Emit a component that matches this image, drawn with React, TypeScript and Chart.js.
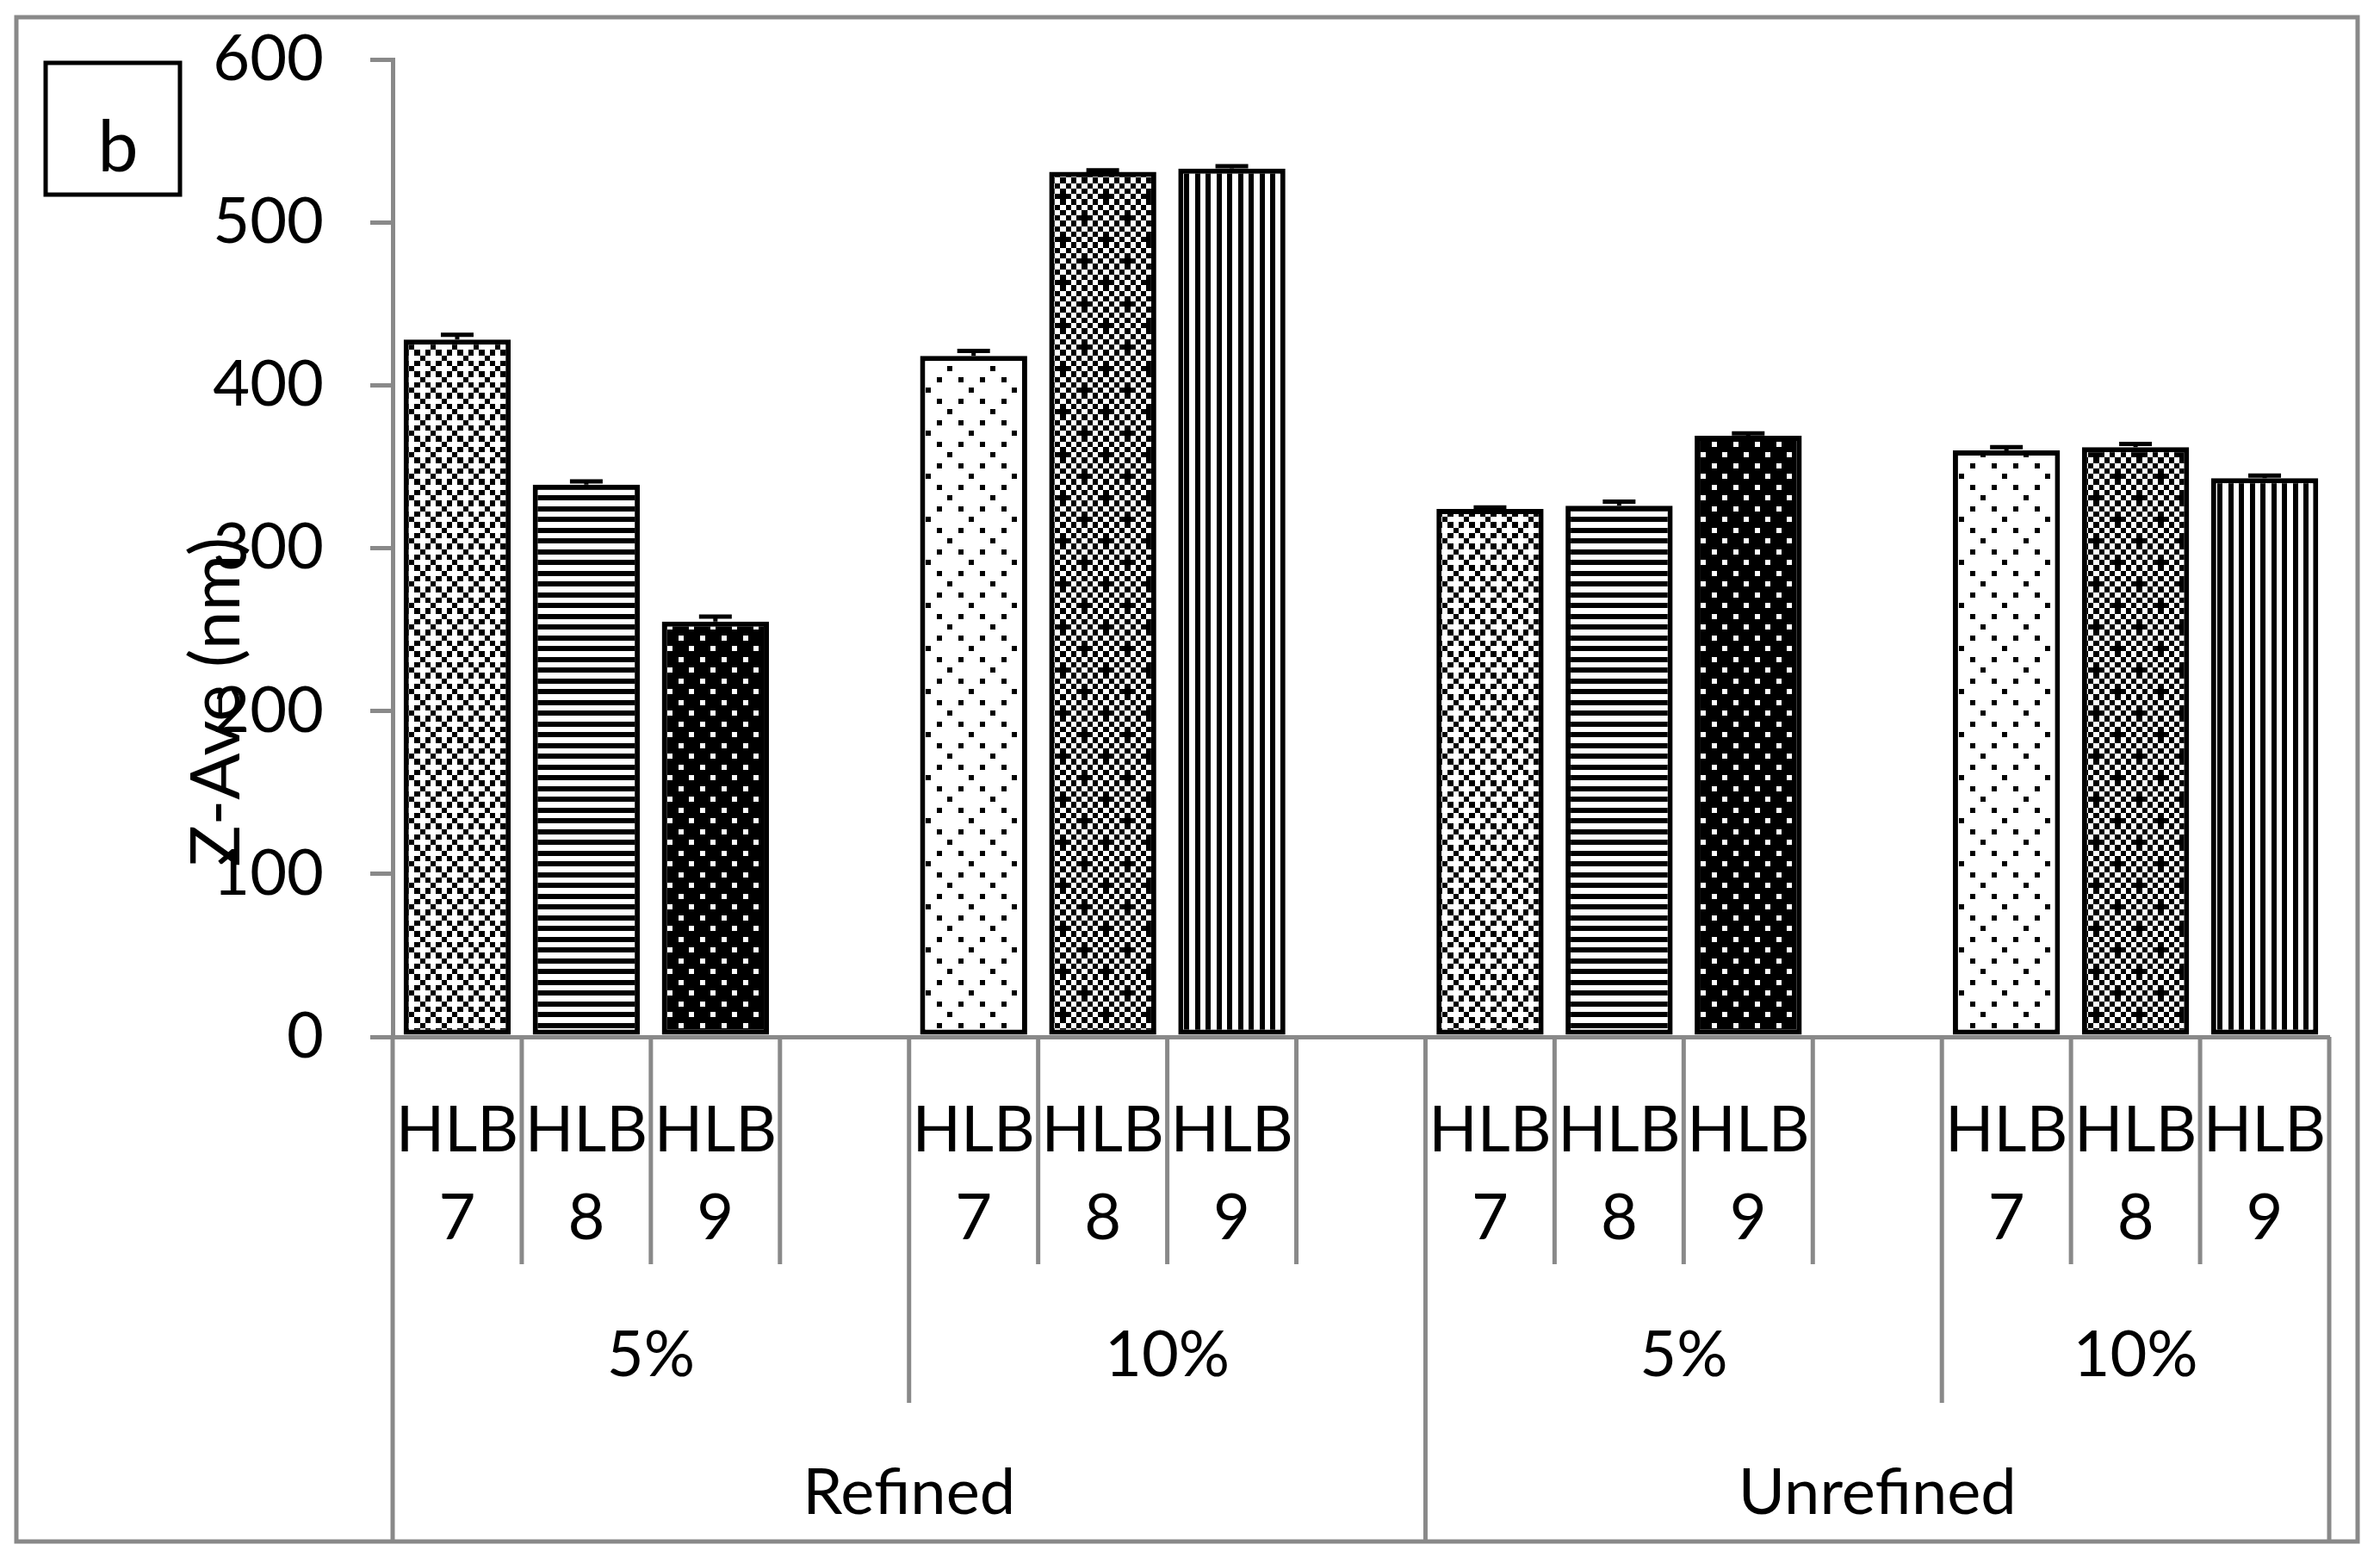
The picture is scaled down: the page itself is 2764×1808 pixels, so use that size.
import React, { useEffect, useRef } from 'react';
import { Chart, registerables } from 'chart.js';

Chart.register(...registerables);

// ---------------- data ----------------
const oilTypes = ['Refined', 'Unrefined'];
const concentrations = ['5%', '10%'];
const hlbLevels = ['7', '8', '9'];

const refined5 = [428, 339, 255];
const refined10 = [418, 531, 533];
const unrefined5 = [324, 326, 369];
const unrefined10 = [360, 362, 343];

const refined5Err = [3, 2, 3];
const refined10Err = [3, 1, 1.5];
const unrefined5Err = [1, 2.5, 1.5];
const unrefined10Err = [2, 2, 1.5];

const yMin = 0;
const yMax = 600;
const yStep = 100;

const yTitle = 'Z-Ave (nm)';
const panelLetter = 'b';

// fill pattern per HLB level, for 5% and 10% groups
const fills5 = ['lightCheck', 'hLines', 'darkDots'];
const fills10 = ['sparseDots', 'darkChecker', 'vLines'];

// ---------------- styling ----------------
const FONT = 'Lato, "Open Sans", sans-serif';
const GRAY = '#898989';
const U = 6.25;

type BlackFn = (x: number, y: number) => boolean;

const patternDefs: Record<string, { n: number; black: BlackFn }> = {
  lightCheck: { n: 4, black: (x, y) => (x + y) % 4 === 0 || (x - y + 4) % 4 === 0 },
  hLines: { n: 4, black: (_x, y) => y % 2 === 0 },
  darkDots: { n: 4, black: (x, y) => !((x === 0 && y === 0) || (x === 2 && y === 2)) },
  sparseDots: {
    n: 8,
    black: (x, y) =>
      (x === 4 && y === 0) || (x === 0 && y === 4) ||
      (x === 2 && y === 2) || (x === 6 && y === 2) ||
      (x === 2 && y === 6) || (x === 6 && y === 6),
  },
  darkChecker: {
    n: 8,
    black: (x, y) => (x + y) % 2 === 0 || (x === 1 && y === 0) || (x === 5 && y === 4),
  },
  vLines: { n: 4, black: (x, _y) => x % 2 === 0 },
};

function makePattern(ctx: CanvasRenderingContext2D, key: string): CanvasPattern | string {
  const def = patternDefs[key];
  const size = Math.round(def.n * U);
  const c = document.createElement('canvas');
  c.width = size;
  c.height = size;
  const g = c.getContext('2d');
  if (!g) return '#888';
  g.fillStyle = '#fff';
  g.fillRect(0, 0, size, size);
  g.fillStyle = '#000';
  for (let y = 0; y < def.n; y++) {
    for (let x = 0; x < def.n; x++) {
      if (def.black(x, y)) {
        const x0 = Math.round(x * U);
        const x1 = Math.round((x + 1) * U);
        const y0 = Math.round(y * U);
        const y1 = Math.round((y + 1) * U);
        g.fillRect(x0, y0, x1 - x0, y1 - y0);
      }
    }
  }
  return ctx.createPattern(c, 'repeat') || '#888';
}

// ---------------- slot layout built from data ----------------
type Group = { label: string; start: number; end: number };

function buildSlots() {
  const series: Record<string, number[][]> = {
    Refined: [refined5, refined10],
    Unrefined: [unrefined5, unrefined10],
  };
  const errs: Record<string, number[][]> = {
    Refined: [refined5Err, refined10Err],
    Unrefined: [unrefined5Err, unrefined10Err],
  };
  const labels: (string | string[])[] = [];
  const values: (number | null)[] = [];
  const errors: (number | null)[] = [];
  const fillKeys: (string | null)[] = [];
  const level2: Group[] = [];
  const level3: Group[] = [];
  const totalGroups = oilTypes.length * concentrations.length;
  let g = 0;
  oilTypes.forEach((oil) => {
    const oilStart = labels.length;
    concentrations.forEach((conc, ci) => {
      const start = labels.length;
      hlbLevels.forEach((h, hi) => {
        labels.push(['HLB', h]);
        values.push(series[oil][ci][hi]);
        errors.push(errs[oil][ci][hi]);
        fillKeys.push(ci === 0 ? fills5[hi] : fills10[hi]);
      });
      g++;
      if (g < totalGroups) {
        labels.push('');
        values.push(null);
        errors.push(null);
        fillKeys.push(null);
      }
      level2.push({ label: conc, start, end: labels.length });
    });
    level3.push({ label: oil, start: oilStart, end: labels.length });
  });
  return { labels, values, errors, fillKeys, level2, level3 };
}

const slots = buildSlots();

export default function App() {
  const ref = useRef<HTMLCanvasElement | null>(null);

  useEffect(() => {
    const canvas = ref.current;
    if (!canvas) return;
    const ctx = canvas.getContext('2d');
    if (!ctx) return;

    const fills = slots.fillKeys.map((k) => (k ? makePattern(ctx, k) : '#fff'));

    const AXIS_Y = 1204;
    const L1_Y = 1468;
    const L2_Y = 1629;
    const L3_Y = 1788;

    const boundaries = (chart: any) => {
      const xs = chart.scales.x;
      const n = slots.labels.length;
      const out: number[] = [];
      for (let k = 0; k <= n; k++) {
        if (k === 0) out.push(xs.left);
        else if (k === n) out.push(xs.right);
        else out.push((xs.getPixelForValue(k - 1) + xs.getPixelForValue(k)) / 2);
      }
      return out;
    };

    const decor = {
      id: 'decor',
      beforeDraw(chart: any) {
        const c = chart.ctx;
        c.save();
        c.fillStyle = '#fff';
        c.fillRect(0, 0, chart.width, chart.height);
        c.restore();
      },
      afterDatasetsDraw(chart: any) {
        const c = chart.ctx;
        const ys = chart.scales.y;
        const meta = chart.getDatasetMeta(0);
        c.save();
        c.strokeStyle = '#000';
        c.lineWidth = 5;
        slots.values.forEach((v, i) => {
          const e = slots.errors[i];
          if (v == null || e == null) return;
          const el = meta.data[i];
          const x = el.x;
          const yTop = ys.getPixelForValue(v + e);
          const yBot = ys.getPixelForValue(v);
          c.beginPath();
          c.moveTo(x, yBot);
          c.lineTo(x, yTop);
          c.moveTo(x - 19, yTop);
          c.lineTo(x + 19, yTop);
          c.stroke();
        });
        c.restore();
      },
      afterDraw(chart: any) {
        const c = chart.ctx;
        const b = boundaries(chart);
        const n = slots.labels.length;
        const l2Edges = new Set(slots.level2.map((g) => g.start).concat(slots.level2.map((g) => g.end)));
        const l3Edges = new Set(slots.level3.map((g) => g.start).concat(slots.level3.map((g) => g.end)));
        c.save();
        // outer frame
        c.strokeStyle = GRAY;
        c.lineWidth = 5;
        c.strokeRect(19, 20, 2738 - 19, 1790 - 20);
        // category separators
        for (let k = 0; k <= n; k++) {
          let yEnd = L1_Y;
          if (l3Edges.has(k)) yEnd = L3_Y;
          else if (l2Edges.has(k)) yEnd = L2_Y;
          c.beginPath();
          c.moveTo(b[k], AXIS_Y);
          c.lineTo(b[k], yEnd);
          c.stroke();
        }
        // group labels
        c.fillStyle = '#000';
        c.font = `74px ${FONT}`;
        c.textAlign = 'center';
        c.textBaseline = 'middle';
        slots.level2.forEach((g) => {
          c.fillText(g.label, (b[g.start] + b[g.end]) / 2, 1574);
        });
        slots.level3.forEach((g) => {
          c.fillText(g.label, (b[g.start] + b[g.end]) / 2, 1734);
        });
        // y title (overlapping tick labels as in the original)
        c.save();
        c.translate(252, 815);
        c.rotate(-Math.PI / 2);
        c.font = `80px ${FONT}`;
        c.fillText(yTitle, 0, 0);
        c.restore();
        // panel letter box
        c.strokeStyle = '#000';
        c.lineWidth = 5;
        c.strokeRect(53, 73, 156, 153);
        c.font = `84px ${FONT}`;
        c.textBaseline = 'alphabetic';
        c.fillText(panelLetter, 137, 199);
        c.restore();
      },
    };

    const chart = new Chart(canvas, {
      type: 'bar',
      data: {
        labels: slots.labels,
        datasets: [
          {
            data: slots.values,
            backgroundColor: fills as any,
            borderColor: '#000',
            borderWidth: 6,
            borderSkipped: false,
            barPercentage: 0.83,
            categoryPercentage: 1,
          },
        ],
      },
      options: {
        animation: false,
        responsive: false,
        devicePixelRatio: 1,
        events: [],
        layout: { padding: { left: 0, right: 59, top: 69, bottom: 0 } },
        plugins: { legend: { display: false }, tooltip: { enabled: false } },
        scales: {
          x: {
            grid: { display: false, drawTicks: false },
            border: { display: true, color: GRAY, width: 5 },
            ticks: {
              autoSkip: false,
              maxRotation: 0,
              minRotation: 0,
              padding: 58,
              color: '#000',
              font: { family: FONT, size: 74, lineHeight: 1.38 },
            },
            afterFit: (s: any) => {
              s.height = 1808 - AXIS_Y;
            },
          },
          y: {
            min: yMin,
            max: yMax,
            ticks: {
              stepSize: yStep,
              padding: 54,
              color: '#000',
              font: { family: FONT, size: 74 },
            },
            grid: {
              drawOnChartArea: false,
              drawTicks: true,
              tickLength: 26,
              color: GRAY,
              lineWidth: 5,
            },
            border: { display: true, color: GRAY, width: 5 },
            afterFit: (s: any) => {
              s.width = 456;
              s.paddingTop = 0;
              s.paddingBottom = 0;
            },
          },
        },
      },
      plugins: [decor],
    });

    return () => chart.destroy();
  }, []);

  return (
    <div style={{ position: 'fixed', left: 0, top: 0, width: 2764, height: 1808, background: '#fff' }}>
      <canvas ref={ref} width={2764} height={1808} style={{ display: 'block', width: 2764, height: 1808 }} />
    </div>
  );
}
